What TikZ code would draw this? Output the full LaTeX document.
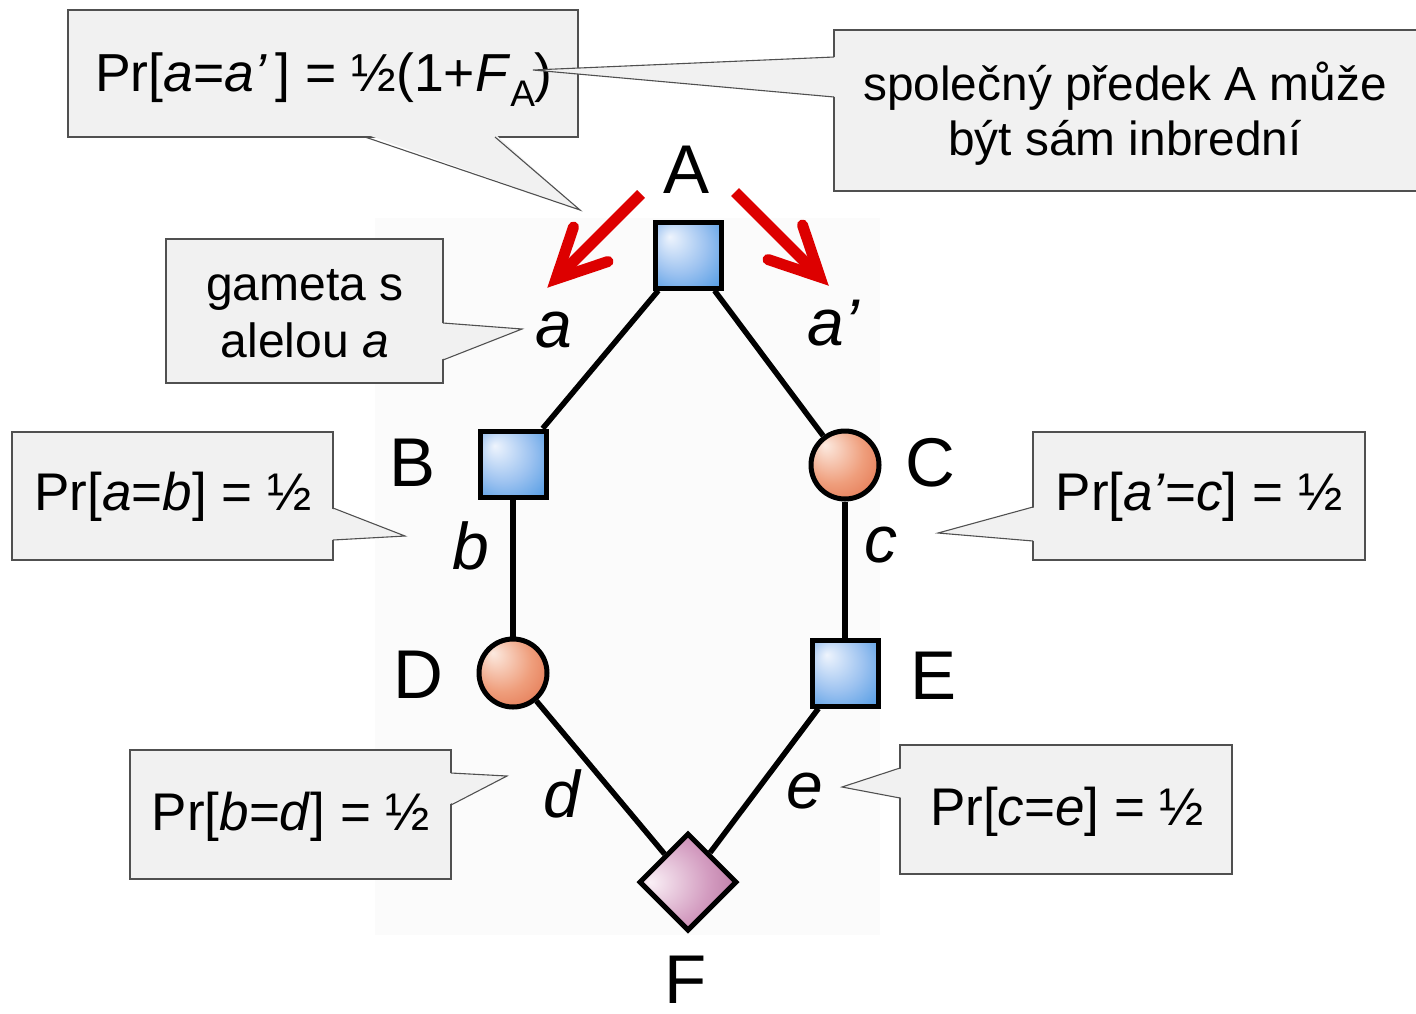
\documentclass[tikz,border=0pt]{standalone}
\usepackage{fontspec}
\setmainfont{Liberation Sans}
\usetikzlibrary{shapes.geometric}
\definecolor{callfill}{HTML}{F1F1F1}
\definecolor{calldraw}{HTML}{505050}
\definecolor{arrred}{HTML}{DD0000}
\definecolor{bghi}{HTML}{FBFBFB}
\definecolor{bluehi}{HTML}{EEF4FD}
\definecolor{bluemid}{HTML}{9CC2F0}
\definecolor{bluelo}{HTML}{2483DC}
\definecolor{orhi}{HTML}{FCEAE0}
\definecolor{ormid}{HTML}{EF9E7C}
\definecolor{orlo}{HTML}{D9532A}
\definecolor{vihi}{HTML}{FAF0F6}
\definecolor{vimid}{HTML}{D39CC0}
\definecolor{vilo}{HTML}{9C4C7E}
\pgfdeclareradialshading{bluesq}{\pgfpoint{-14bp}{14bp}}{color(0bp)=(bluehi);color(22bp)=(bluemid);color(50bp)=(bluelo)}
\pgfdeclareradialshading{orball}{\pgfpoint{-15bp}{15bp}}{color(0bp)=(orhi);color(22bp)=(ormid);color(50bp)=(orlo)}
\pgfdeclareradialshading{viodia}{\pgfpoint{-20bp}{0bp}}{color(0bp)=(vihi);color(22bp)=(vimid);color(50bp)=(vilo)}
\begin{document}
\begin{tikzpicture}[x=1pt,y=-1pt,
  callbox/.style={rectangle, fill=callfill, draw=calldraw, line width=1.1pt, inner sep=0pt, align=center},
  calltail/.style={draw=calldraw, line width=1.1pt, line join=miter},
  sqnode/.style={rectangle, draw=black, line width=5pt, minimum size=66pt, inner sep=0pt, shading=bluesq},
  circnode/.style={circle, draw=black, line width=5pt, minimum size=68pt, inner sep=0pt, shading=orball},
  dianode/.style={diamond, aspect=1, draw=black, line width=5pt, minimum width=98pt, minimum height=98pt, inner sep=0pt, shading=viodia},
  edge/.style={draw=black, line width=5.5pt},
  bigletter/.style={inner sep=0pt, font=\fontsize{69}{69}\selectfont},
  allele/.style={inner sep=0pt, anchor=base, font=\fontsize{66}{66}\selectfont\itshape},
  redshaft/.style={draw=arrred, line width=11pt},
  redbarb/.style={draw=arrred, line width=11pt, line cap=round, line join=miter}
]
\useasboundingbox (0,0) rectangle (1416,1013);
% faint background of the pedigree picture
\fill[bghi] (375,218) rectangle (880,935);

% ---- callout 1 (top left)
\node[callbox, minimum width=510pt, minimum height=127pt] (cb1) at (323,73.5) {};
\coordinate (t1a) at (365,137); \coordinate (t1b) at (495,137); \coordinate (t1) at (580,210);
\fill[callfill] (365,134) -- (t1) -- (495,134) -- cycle;
\draw[calltail] (t1a) -- (t1) -- (t1b);
\node[inner sep=0pt, font=\fontsize{53.5}{58}\selectfont] (txt1) at (324,80) {Pr[\textit{a}=\textit{a’}\,] = ½(1+\textit{F}\raisebox{-0.28em}{\fontsize{37}{37}\selectfont A})};

% ---- callout 2 (top right)
\node[callbox, minimum width=590pt, minimum height=161pt] (cb2) at (1129,110.5) {};
\coordinate (t2a) at (834,57); \coordinate (t2b) at (834,97); \coordinate (t2) at (533,70);
\fill[callfill] (837,57) -- (t2) -- (837,97) -- cycle;
\draw[calltail] (t2a) -- (t2) -- (t2b);
\node[inner sep=0pt, align=center, font=\fontsize{47.8}{55}\selectfont] (txt2) at (1125,114) {společný předek A může\\být sám inbrední};

% ---- callout gameta
\node[callbox, minimum width=277pt, minimum height=144pt] (cb3) at (304.5,311) {};
\coordinate (t3a) at (443,323); \coordinate (t3b) at (443,360); \coordinate (t3) at (522,329);
\fill[callfill] (440,323) -- (t3) -- (440,360) -- cycle;
\draw[calltail] (t3a) -- (t3) -- (t3b);
\node[inner sep=0pt, align=center, font=\fontsize{48}{57}\selectfont] (txt3) at (305,314) {gameta s\\alelou \textit{a}};

% ---- callout B
\node[callbox, minimum width=321pt, minimum height=128pt] (cb4) at (172.5,496) {};
\coordinate (t4a) at (333,508); \coordinate (t4b) at (333,540); \coordinate (t4) at (405,536);
\fill[callfill] (330,508) -- (t4) -- (330,540) -- cycle;
\draw[calltail] (t4a) -- (t4) -- (t4b);
\node[inner sep=0pt, font=\fontsize{53}{58}\selectfont] (txt4) at (173,497) {Pr[\textit{a}=\textit{b}] = ½};

% ---- callout C
\node[callbox, minimum width=332pt, minimum height=128pt] (cb5) at (1199,496) {};
\coordinate (t5a) at (1033,507); \coordinate (t5b) at (1033,541); \coordinate (t5) at (938,533);
\fill[callfill] (1036,507) -- (t5) -- (1036,541) -- cycle;
\draw[calltail] (t5a) -- (t5) -- (t5b);
\node[inner sep=0pt, font=\fontsize{53}{58}\selectfont] (txt5) at (1199,497) {Pr[\textit{a’}=\textit{c}] = ½};

% ---- callout D
\node[callbox, minimum width=321pt, minimum height=129pt] (cb6) at (290.5,814.5) {};
\coordinate (t6a) at (451,773); \coordinate (t6b) at (451,805); \coordinate (t6) at (507,776);
\fill[callfill] (448,773) -- (t6) -- (448,805) -- cycle;
\draw[calltail] (t6a) -- (t6) -- (t6b);
\node[inner sep=0pt, font=\fontsize{53}{58}\selectfont] (txt6) at (291,817) {Pr[\textit{b}=\textit{d}] = ½};

% ---- callout E
\node[callbox, minimum width=332pt, minimum height=129pt] (cb7) at (1066,809.5) {};
\coordinate (t7a) at (900,768); \coordinate (t7b) at (900,798); \coordinate (t7) at (842,787);
\fill[callfill] (903,768) -- (t7) -- (903,798) -- cycle;
\draw[calltail] (t7a) -- (t7) -- (t7b);
\node[inner sep=0pt, font=\fontsize{53}{58}\selectfont] (txt7) at (1067,812) {Pr[\textit{c}=\textit{e}] = ½};

% ---- pedigree nodes
\node[sqnode] (A) at (688,255) {};
\node[sqnode] (B) at (513,464) {};
\node[circnode] (C) at (845,465) {};
\node[circnode] (D) at (513,673) {};
\node[sqnode] (E) at (845,673) {};
\node[dianode] (F) at (688,882) {};

\draw[edge] (A) -- (B);
\draw[edge] (A) -- (C);
\draw[edge] (B) -- (D);
\draw[edge] (C) -- (E);
\draw[edge] (D) -- (F);
\draw[edge] (E) -- (F);

% ---- node letters
\node[bigletter] (lA) at (687,170) {A};
\node[bigletter] (lB) at (413,463) {B};
\node[bigletter] (lC) at (930,463) {C};
\node[bigletter] (lD) at (418,675) {D};
\node[bigletter] (lE) at (933,676) {E};
\node[bigletter] (lF) at (686,980) {F};

% ---- allele labels
\node[allele] (la) at (554,347) {a};
\node[allele] (lap) at (833,345) {a’};
\node[allele] (lb) at (471,569) {b};
\node[allele] (lc) at (881,562) {c};
\node[allele] (ld) at (562,817) {d};
\node[allele] (le) at (805,808) {e};

% ---- red arrows
\coordinate (r1s) at (641,194); \coordinate (r1t) at (556,279);
\coordinate (r2s) at (735,192); \coordinate (r2t) at (820,277);
\draw[redshaft] (r1s) -- (r1t);
\draw[redbarb] (r1t) ++(52,-17.5) -- (r1t) -- ++(17.5,-52);
\draw[redshaft] (r2s) -- (r2t);
\draw[redbarb] (r2t) ++(-52,-17.5) -- (r2t) -- ++(-17.5,-52);
\end{tikzpicture}
\end{document}
